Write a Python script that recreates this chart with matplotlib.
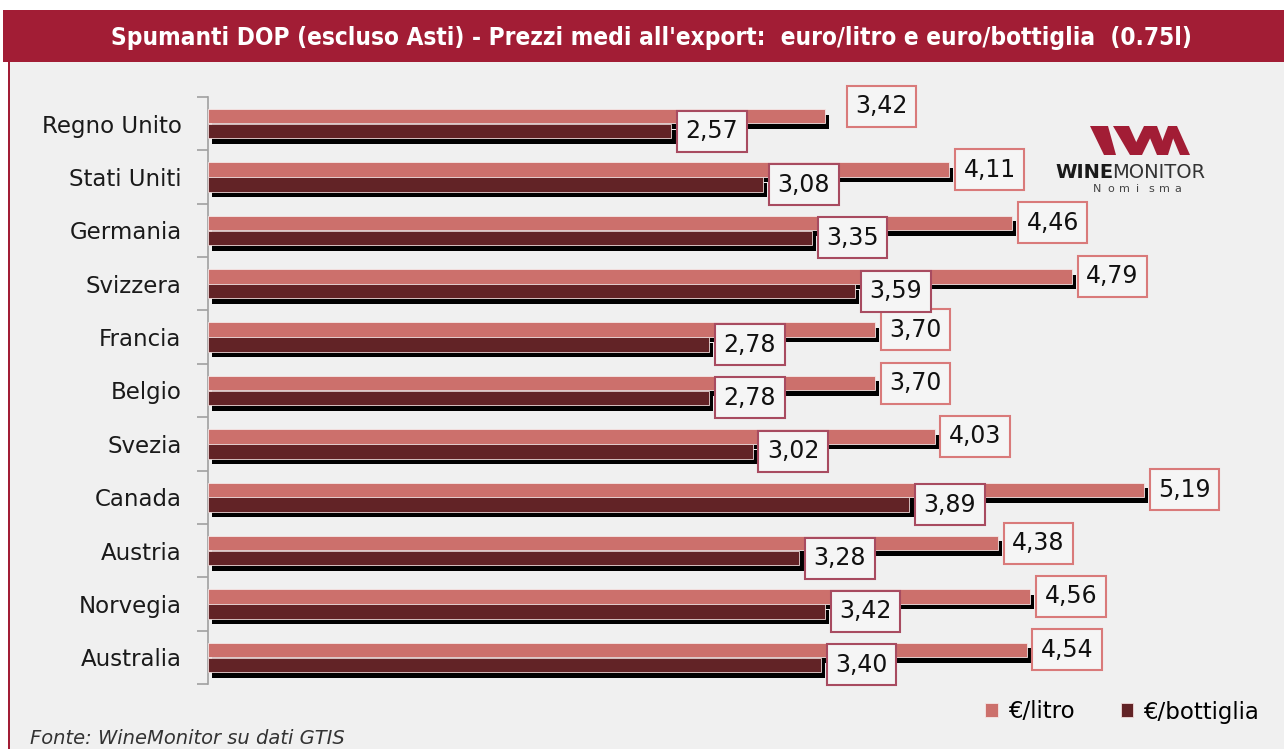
import numpy as np
import matplotlib
matplotlib.use('Agg')
import matplotlib.pyplot as plt
import matplotlib.patheffects as pe
from matplotlib.patches import Rectangle, Polygon

paesi = ['Regno Unito', 'Stati Uniti', 'Germania', 'Svizzera', 'Francia', 'Belgio',
         'Svezia', 'Canada', 'Austria', 'Norvegia', 'Australia']
euro_litro = [3.42, 4.11, 4.46, 4.79, 3.70, 3.70, 4.03, 5.19, 4.38, 4.56, 4.54]
euro_bottiglia = [2.57, 3.08, 3.35, 3.59, 2.78, 2.78, 3.02, 3.89, 3.28, 3.42, 3.40]

col_litro = '#cc706c'
col_bott = '#622326'
rosso = '#a21d35'

W, H = 1284, 749
fig = plt.figure(figsize=(W / 100, H / 100), dpi=100, facecolor='white')


def fx(x):
    return x / W


def fy(y):
    return 1 - y / H


# sfondo, banda del titolo e bordo sinistro
fig.patches.append(Rectangle((fx(10), 0), 1, fy(62), transform=fig.transFigure,
                             facecolor='#f0f0f0', edgecolor='none', zorder=-2))
fig.patches.append(Rectangle((fx(3), fy(62)), 1, 52 / H, transform=fig.transFigure,
                             facecolor=rosso, edgecolor='none', zorder=-1))
fig.patches.append(Rectangle((fx(8), 0), 2 / W, fy(62), transform=fig.transFigure,
                             facecolor=rosso, edgecolor='none', zorder=-1))
fig.text(fx(651), fy(38), "Spumanti DOP (escluso Asti) - Prezzi medi all'export:  euro/litro e euro/bottiglia  (0.75l)",
         color='white', fontsize=17.5, fontweight='bold', fontstretch='condensed',
         ha='center', va='center', family='DejaVu Sans')

# grafico
ax = fig.add_axes([fx(208), fy(684), (1272 - 208) / W, (684 - 97) / H])
ax.set_zorder(2)
ax.set_facecolor('none')
ax.set_xlim(0, (1272 - 208) / 180.3)
ax.set_ylim(len(paesi) - 0.5, -0.5)

y = np.arange(len(paesi))
h = 0.27
ombra = [pe.SimplePatchShadow(offset=(3, -4), shadow_rgbFace='black', alpha=1.0), pe.Normal()]
b1 = ax.barh(y - 0.14, euro_litro, height=h, color=col_litro, edgecolor='#f6e6e6',
             linewidth=0.6, zorder=3)
b2 = ax.barh(y + 0.14, euro_bottiglia, height=h, color=col_bott, edgecolor='#f0dada',
             linewidth=0.6, zorder=3)
for r in list(b1) + list(b2):
    r.set_path_effects(ombra)

# etichette dei valori (Regno Unito €/litro spostata in alto a destra come nell'originale)
spost = {0: (0.09, -0.19)}
for i, v in enumerate(euro_litro):
    dx, dy = spost.get(i, (0, 0))
    ax.text(v + 0.225 + dx, i - 0.14 + dy, f'{v:.2f}'.replace('.', ','), ha='center', va='center',
            fontsize=17, color='#111111', zorder=5,
            bbox=dict(boxstyle='square,pad=0.36', facecolor='#f5f5f5', edgecolor='#d97a7a', linewidth=1.5))
for i, v in enumerate(euro_bottiglia):
    ax.text(v + 0.225, i + 0.14, f'{v:.2f}'.replace('.', ','), ha='center', va='center',
            fontsize=17, color='#111111', zorder=5,
            bbox=dict(boxstyle='square,pad=0.36', facecolor='#f5f5f5', edgecolor='#a84b60', linewidth=1.5))

for s in ['top', 'right', 'bottom']:
    ax.spines[s].set_visible(False)
ax.spines['left'].set_color('#a0a0a0')
ax.spines['left'].set_linewidth(1.2)
ax.set_xticks([])
ax.set_yticks(y)
ax.set_yticklabels(paesi, fontsize=16.5, color='#1a1a1a')
ax.tick_params(axis='y', which='major', length=0, pad=19)
ax.set_yticks(np.arange(len(paesi) + 1) - 0.5, minor=True)
ax.tick_params(axis='y', which='minor', length=8, width=1.2, color='#a0a0a0')

# legenda con quadratini semplici (senza ombra)
h1 = Rectangle((0, 0), 1, 1, facecolor=col_litro, edgecolor='#f6e6e6', linewidth=0.6)
h2 = Rectangle((0, 0), 1, 1, facecolor=col_bott, edgecolor='#f0dada', linewidth=0.6)
ax.legend(handles=[h1, h2], labels=['€/litro', '€/bottiglia'], loc='center right',
          bbox_to_anchor=(fx(1280), fy(712)), bbox_transform=fig.transFigure, ncol=2,
          frameon=False, fontsize=16.5, handlelength=0.55, handleheight=0.55,
          handletextpad=0.45, columnspacing=2.0)

fig.text(fx(30), fy(738), 'Fonte: WineMonitor su dati GTIS', fontsize=14, style='italic',
         color='#333333', ha='left', va='center')

# logo Wine Monitor (tratti obliqui)
forme = [
    [(1090, 126), (1108, 126), (1116, 155), (1104, 155)],
    [(1113, 126), (1129, 126), (1142, 155), (1130, 155)],
    [(1130, 155), (1142, 155), (1156, 126), (1144, 126)],
    [(1145, 126), (1157, 126), (1168, 155), (1157, 155)],
    [(1157, 155), (1168, 155), (1177, 126), (1168, 126)],
    [(1168, 126), (1177, 126), (1190, 155), (1180, 155)],
]
for f in forme:
    fig.patches.append(Polygon([(fx(a), fy(b)) for a, b in f], closed=True, transform=fig.transFigure,
                               facecolor=rosso, edgecolor='none', zorder=4))
fig.text(fx(1055), fy(172), 'WINE', fontsize=14, fontweight='bold', color='#1a1a1a',
         ha='left', va='center')
fig.text(fx(1112), fy(172), 'MONITOR', fontsize=14, color='#333333', ha='left', va='center')
for k, c in enumerate('Nomisma'):
    fig.text(fx(1097 + k * 13.5), fy(189), c, fontsize=8, color='#444444', ha='center', va='center')

fig.savefig('out.png', dpi=100, facecolor='white')
